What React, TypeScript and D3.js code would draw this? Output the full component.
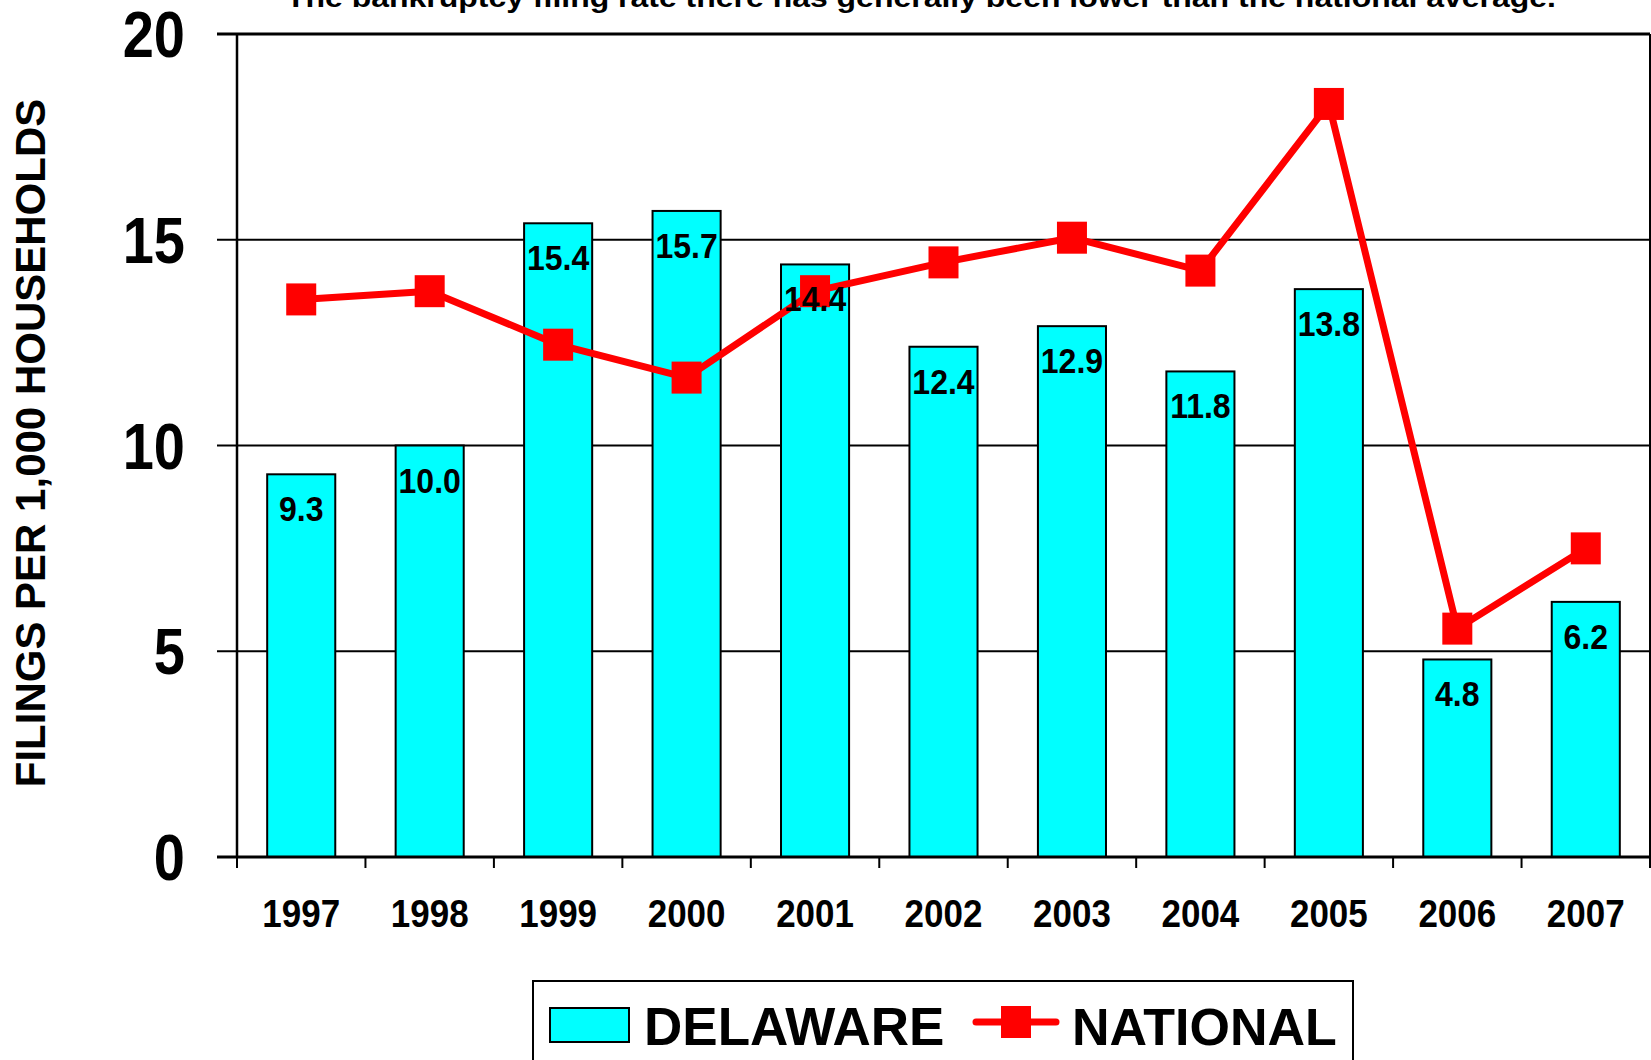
import React from 'react';
import * as d3 from 'd3';

const years = ['1997', '1998', '1999', '2000', '2001', '2002', '2003', '2004', '2005', '2006', '2007'];
const delaware = [9.3, 10.0, 15.4, 15.7, 14.4, 12.4, 12.9, 11.8, 13.8, 4.8, 6.2];
const national = [13.55, 13.75, 12.45, 11.65, 13.75, 14.45, 15.05, 14.25, 18.3, 5.55, 7.5];
const yTicks = [0, 5, 10, 15, 20];
const titleText = 'The bankruptcy filing rate there has generally been lower than the national average.';
const yLabel = 'FILINGS PER 1,000 HOUSEHOLDS';

const W = 1651;
const H = 1060;
const FONT = '"Liberation Sans", Arial, Helvetica, sans-serif';

const left = 237;
const right = 1650;
const top = 34;
const bottom = 857;

const App = () => {
  const x = d3.scaleBand<string>()
    .domain(years)
    .range([left, right])
    .paddingInner(0.47)
    .paddingOuter(0.235);

  const xCat = d3.scaleBand<string>().domain(years).range([left, right]).padding(0);

  const y = d3.scaleLinear().domain([0, 20]).range([bottom, top]);

  const cx = (yr: string) => (x(yr) as number) + x.bandwidth() / 2;

  const line = d3.line<number>()
    .x((_, i) => cx(years[i]))
    .y(d => y(d));

  const boundaries = years.map(yr => xCat(yr) as number).concat([right]);

  return (
    <svg width={W} height={H} style={{ position: 'absolute', left: 0, top: 0 }} fontFamily={FONT} fontWeight="bold">
      <rect x={0} y={0} width={W} height={H} fill="#fff" />

      {/* title, cut at the top */}
      <text x={921} y={7} textAnchor="middle" fontSize={28} textLength={1270} lengthAdjust="spacingAndGlyphs">
        {titleText}
      </text>

      {/* gridlines and y ticks */}
      {yTicks.map(t => (
        <line key={'g' + t} x1={217} x2={right} y1={y(t)} y2={y(t)} stroke="#000" strokeWidth={t === 20 ? 3 : 2} />
      ))}
      {yTicks.map(t => (
        <text key={'yl' + t} transform={`translate(185, ${y(t) + 23}) scale(1, 1.15)`} textAnchor="end" fontSize={56}>
          {t}
        </text>
      ))}

      {/* plot border */}
      <line x1={left} x2={left} y1={top} y2={bottom} stroke="#000" strokeWidth={2.5} />
      <line x1={right} x2={right} y1={top} y2={bottom + 11} stroke="#000" strokeWidth={2} />

      {/* bars */}
      {delaware.map((v, i) => (
        <rect
          key={'b' + i}
          x={x(years[i])}
          y={y(v)}
          width={x.bandwidth()}
          height={y(0) - y(v)}
          fill="#00FFFF"
          stroke="#000"
          strokeWidth={2}
        />
      ))}

      {/* x axis */}
      <line x1={217} x2={right} y1={bottom} y2={bottom} stroke="#000" strokeWidth={3} />
      {boundaries.map((b, i) => (
        <line key={'xt' + i} x1={b} x2={b} y1={bottom} y2={bottom + 11} stroke="#000" strokeWidth={2} />
      ))}
      {years.map(yr => (
        <text key={'xl' + yr} transform={`translate(${cx(yr)}, 927) scale(1, 1.12)`} textAnchor="middle" fontSize={35}>
          {yr}
        </text>
      ))}

      {/* national line */}
      <path d={line(national) as string} fill="none" stroke="#FF0000" strokeWidth={7} strokeLinejoin="round" />
      {national.map((v, i) => (
        <rect key={'m' + i} x={cx(years[i]) - 15} y={y(v) - 16} width={30} height={32} fill="#FF0000" />
      ))}

      {/* value labels */}
      {delaware.map((v, i) => (
        <text
          key={'vl' + i}
          transform={`translate(${cx(years[i])}, ${y(v) + 47}) scale(1, 1.07)`}
          textAnchor="middle"
          fontSize={32}
        >
          {v.toFixed(1)}
        </text>
      ))}

      {/* y axis title */}
      <text transform="translate(45, 443) rotate(-90)" textAnchor="middle" fontSize={42}>
        {yLabel}
      </text>

      {/* legend */}
      <rect x={533} y={981} width={820} height={110} fill="#fff" stroke="#000" strokeWidth={2} />
      <rect x={550} y={1008} width={79} height={34} fill="#00FFFF" stroke="#000" strokeWidth={2} />
      <text x={644} y={1045} fontSize={53}>DELAWARE</text>
      <line x1={976} x2={1056} y1={1022} y2={1022} stroke="#FF0000" strokeWidth={7} strokeLinecap="round" />
      <rect x={1001} y={1006} width={30} height={32} fill="#FF0000" />
      <text x={1072} y={1045} fontSize={52}>NATIONAL</text>
    </svg>
  );
};

export default App;
